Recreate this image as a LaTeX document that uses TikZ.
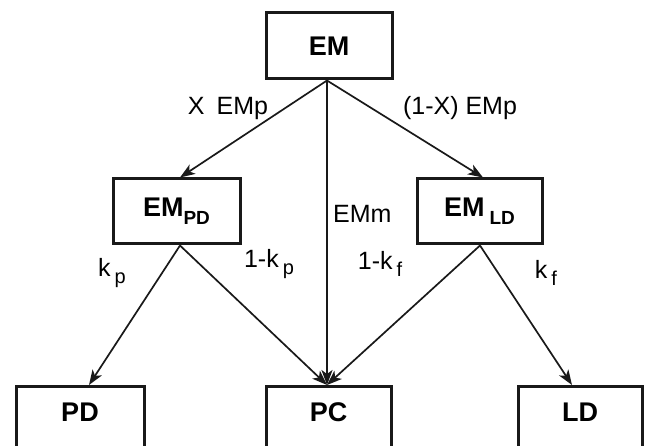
\documentclass[tikz,border=0pt]{standalone}
\usepackage{fontspec}
\setmainfont{Liberation Sans}
\usetikzlibrary{arrows.meta,calc}
\newcommand{\boxsub}[1]{\raisebox{-8pt}{\fontsize{19}{19}\selectfont\bfseries #1}}
\newcommand{\lblsub}[1]{\hspace{4pt}\raisebox{-7pt}{\fontsize{20}{20}\selectfont #1}}
\begin{document}
\begin{tikzpicture}[x=1pt,y=-1pt,
  bx/.style={draw=black!90, line width=3pt, rectangle, inner sep=0pt,
    font=\fontsize{27}{30}\selectfont\bfseries},
  bt/.style={font=\fontsize{27}{30}\selectfont\bfseries, inner sep=0pt},
  conn/.style={line width=1.7pt, draw=black!90,
    -{Stealth[length=15pt,width=11pt,inset=4pt]}},
  lbl/.style={font=\fontsize{25}{28}\selectfont, inner sep=0pt}]
\clip (0,0) rectangle (645,446);
\node[bx, minimum width=126pt, minimum height=66pt] (EM) at (329,46) {EM};
\node[bx, minimum width=127pt, minimum height=65pt] (EMPD) at (176.5,211.5) {EM\boxsub{PD}};
\node[bx, minimum width=125pt, minimum height=65pt] (EMLD) at (479.5,211.5) {EM\hspace{5pt}\boxsub{LD}};
\node[bx, minimum width=128pt, minimum height=100pt, anchor=north] (PD) at (80,385) {};
\node[bx, minimum width=125pt, minimum height=100pt, anchor=north] (PC) at (328.5,385) {};
\node[bx, minimum width=124pt, minimum height=100pt, anchor=north] (LD) at (580,385) {};
\node[bt] (PDt) at (80,412) {PD};
\node[bt] (PCt) at (328.5,412) {PC};
\node[bt] (LDt) at (580,412) {LD};
\coordinate (EMs) at ($(EM.south)+(-2,0)$);
\coordinate (PDa) at ($(EMPD.south)+(3.5,0)$);
\coordinate (LDa) at ($(EMLD.south)+(0.5,0)$);
\coordinate (PDin) at ($(EMPD.north)+(3.5,0)$);
\coordinate (LDin) at ($(EMLD.north)+(3.5,0)$);
\coordinate (PCin) at ($(PC.north)+(-1.5,0)$);
\coordinate (PDtip) at ($(PD.north)+(9,0)$);
\coordinate (LDtip) at ($(LD.north)+(-8,0)$);
\draw[conn] (EMs) -- (PDin);
\draw[conn] (EMs) -- (PCin);
\draw[conn] (EMs) -- (LDin);
\draw[conn] (PDa) -- (PDtip);
\draw[conn] (PDa) -- (PCin);
\draw[conn] (LDa) -- (PCin);
\draw[conn] (LDa) -- (LDtip);
\node[lbl] (l1) at (228,108) {X\hspace{12pt}EMp};
\node[lbl] (l2) at (460,108) {(1-X) EMp};
\node[lbl, anchor=west] (l3) at (333,214) {EMm};
\node[lbl] (l4) at (112,273) {k\lblsub{p}};
\node[lbl] (l5) at (269,264) {1-k\lblsub{p}};
\node[lbl] (l6) at (380,264) {1-k\lblsub{f}};
\node[lbl] (l7) at (546,273) {k\lblsub{f}};
\end{tikzpicture}
\end{document}
